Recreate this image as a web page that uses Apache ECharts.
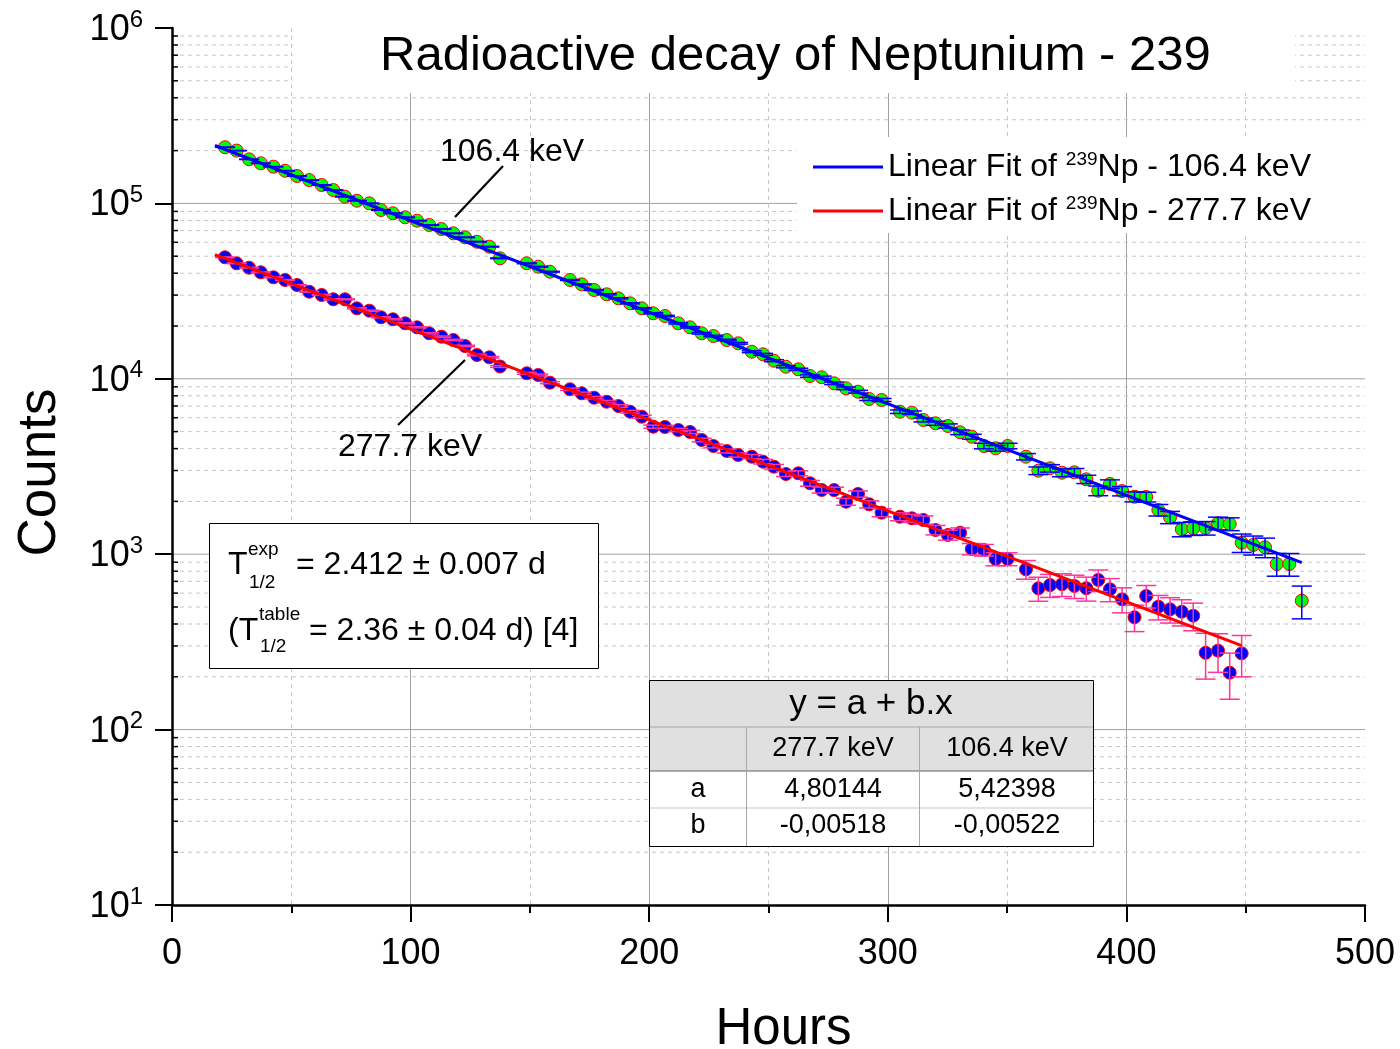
<!DOCTYPE html>
<html><head><meta charset="utf-8">
<script src="https://cdn.jsdelivr.net/npm/echarts@6/dist/echarts.min.js"></script>
<style>html,body{margin:0;padding:0;background:#fff}#c{width:1400px;height:1049px}</style>
</head><body><div id="c"></div>
<script>
// ---------------- data ----------------
const hours = [22.2,27.1,32.3,37.2,42.5,47.4,52.4,57.5,62.7,67.6,
72.5,77.5,82.7,87.6,92.6,97.7,102.7,107.8,112.9,117.9,
122.8,127.8,133.0,137.5,148.7,153.5,158.4,166.8,171.7,176.9,
182.2,187.1,192.0,196.9,201.7,206.6,212.2,217.1,222.0,226.9,
232.5,237.3,243.0,247.7,252.3,257.3,262.5,267.4,272.3,277.5,
282.5,287.5,292.2,297.4,305.1,310.1,314.9,320.0,325.2,330.3,
335.2,340.3,345.2,350.2,357.9,363.1,368.0,373.0,378.2,383.2,
388.2,393.1,398.2,403.4,408.3,413.4,418.3,423.2,428.0,433.2,
438.4,443.3,448.3,453.2,458.1,463.0,468.3,473.5];
const counts106 = [209000,200000,178300,169300,161900,153600,143300,135900,127300,119200,
109200,103600,100100,91700,87800,83300,79700,75300,71450,67520,
64070,60480,56640,48640,45540,43560,40790,36580,34570,32080,
30320,28770,26940,25230,23630,22800,20720,19660,18170,17540,
16640,15940,14270,13790,12680,11720,11330,10370,10200,9426,
8827,8442,7671,7571,6493,6408,5823,5576,5383,4955,
4677,4140,4017,4140,3596,2993,3088,2915,2930,2673,
2301,2513,2290,2127,2120,1786,1623,1387,1405,1410,
1501,1487,1163,1129,1095,879,879,543];
const err106 = [450,440,420,410,400,390,380,370,360,350,
340,330,320,310,300,295,290,285,280,275,
270,265,260,250,245,240,235,230,225,220,
215,210,205,200,200,195,190,185,180,180,
175,175,170,170,165,165,160,160,160,155,
155,155,150,150,150,150,150,150,150,150,
150,150,150,150,150,150,150,150,150,145,
145,140,140,140,135,135,130,130,125,125,
125,125,140,140,140,130,130,115];
const counts277 = [49280,45540,42990,40470,37900,36580,34250,31370,30050,28400,
28400,25230,24450,22420,21840,20720,19660,18170,17380,16640,
15380,13670,13260,11750,10750,10510,9502,8712,8267,7803,
7403,6997,6493,6079,5334,5313,5108,4975,4479,4140,
3876,3677,3596,3370,3154,2866,2893,2537,2323,2320,
1992,2204,1925,1725,1636,1602,1567,1374,1287,1326,
1071,1056,939,940,820,639,667,674,659,640,
713,631,553,437,578,502,485,470,446,274,
282,211,272];
const err277 = [230,225,220,215,210,205,200,195,190,185,
185,180,175,170,170,165,160,155,155,150,
150,145,140,140,135,135,130,130,125,125,
120,120,115,115,110,110,110,105,105,100,
100,100,100,100,95,95,95,95,90,90,
90,90,90,90,85,85,85,85,85,85,
80,80,80,80,100,100,100,100,100,100,
100,95,90,75,85,80,80,80,80,80,
70,62,72];
// linear fit of log10(counts) = a + b*hours  [106.4 keV, 277.7 keV]
const fitA = [5.42398, 4.80144];
const fitB = [-0.00522, -0.00518];
const fitRange106 = [18, 473.5];
const fitRange277 = [18, 448.3];
const fitNames = ['Linear Fit of 239Np - 106.4 keV', 'Linear Fit of 239Np - 277.7 keV'];
const tableHead = ['', '277.7 keV', '106.4 keV'];
const tableRowA = ['a', '4,80144', '5,42398'];
const tableRowB = ['b', '-0,00518', '-0,00522'];

// ---------------- helpers ----------------
const FF = "'Liberation Sans', Arial, Helvetica, sans-serif";
function fitLine(i, range) {
  return range.map(h => [h, Math.pow(10, fitA[i] + fitB[i] * h)]);
}
const yGridData = [];
for (let d = 1; d <= 5; d++) {
  for (let m = 1; m <= 9; m++) {
    if (d === 1 && m === 1) continue;
    yGridData.push([0, m * Math.pow(10, d), m === 1 ? 1 : 0]);
  }
}
function errRender(color) {
  return function (params, api) {
    const x = api.value(0), lo = api.value(1), hi = api.value(2);
    const p1 = api.coord([x, hi]), p2 = api.coord([x, lo]);
    const hw = 10;
    const st = { stroke: color, lineWidth: 1.5 };
    return { type: 'group', children: [
      { type: 'line', shape: { x1: p1[0], y1: p1[1], x2: p2[0], y2: p2[1] }, style: st },
      { type: 'line', shape: { x1: p1[0] - hw, y1: p1[1], x2: p1[0] + hw, y2: p1[1] }, style: st },
      { type: 'line', shape: { x1: p2[0] - hw, y1: p2[1], x2: p2[0] + hw, y2: p2[1] }, style: st }
    ]};
  };
}
function gridRender(params, api) {
  const v = api.value(1), major = api.value(2);
  const p1 = api.coord([0, v]), p2 = api.coord([500, v]);
  const children = [{
    type: 'line', shape: { x1: p1[0], y1: p1[1], x2: p2[0], y2: p2[1] },
    style: major ? { stroke: '#a0a0a0', lineWidth: 1 } : { stroke: '#c8c8c8', lineWidth: 1, lineDash: [4, 4] }
  }];
  if (!major) children.push({ type: 'line', shape: { x1: p1[0], y1: p1[1], x2: p1[0] + 6, y2: p1[1] }, style: { stroke: '#000', lineWidth: 1.5 } });
  return { type: 'group', children };
}
function txt(text, x, y, size, align) {
  return { type: 'text', z: 2, style: { text, x, y, fill: '#000', font: size + 'px ' + FF, align: align || 'left', verticalAlign: 'middle', textAlign: align || 'left', textVerticalAlign: 'middle' } };
}
function hline(x1, y1, x2, y2, color, w) {
  return { type: 'line', z: 2, shape: { x1, y1, x2, y2 }, style: { stroke: color, lineWidth: w } };
}

const graphics = [
  { type: 'rect', z: 1, shape: { x: 293, y: 20, width: 1002, height: 73 }, style: { fill: '#fff' } },
  { type: 'rect', z: 1, shape: { x: 797, y: 137, width: 568, height: 96 }, style: { fill: '#fff' } },
  { type: 'rect', z: 1, shape: { x: 209.5, y: 523.5, width: 389, height: 145 }, style: { fill: '#fff', stroke: '#000', lineWidth: 1 } },
  txt('T', 228, 565, 32), txt('exp', 248, 550, 19), txt('1/2', 249, 583, 19),
  txt('= 2.412 \u00b1 0.007 d', 296, 565, 32),
  txt('(T', 228, 631, 32), txt('table', 259, 615, 19), txt('1/2', 260, 647, 19),
  txt('= 2.36 \u00b1 0.04 d) [4]', 309, 631, 32),
  txt('106.4 keV', 440, 152, 32), hline(503, 166, 455, 217, '#000', 2.2),
  txt('277.7 keV', 338, 447, 32), hline(465, 360, 398, 425, '#000', 2.2),
  { type: 'rect', z: 1, shape: { x: 649.5, y: 680.5, width: 444, height: 166 }, style: { fill: '#fff' } },
  { type: 'rect', z: 1, shape: { x: 649.5, y: 680.5, width: 444, height: 90.5 }, style: { fill: '#e0e0e0' } },
  hline(649.5, 727, 1093.5, 727, '#a8a8a8', 1),
  hline(649.5, 771, 1093.5, 771, '#606060', 1),
  hline(649.5, 808, 1093.5, 808, '#c8c8c8', 1),
  hline(746.5, 727, 746.5, 846.5, '#a8a8a8', 1),
  hline(919.5, 727, 919.5, 846.5, '#a8a8a8', 1),
  { type: 'rect', z: 2, shape: { x: 649.5, y: 680.5, width: 444, height: 166 }, style: { fill: 'none', stroke: '#000', lineWidth: 1 } },
  txt('y = a + b.x', 871, 704.5, 35, 'center'),
  txt(tableHead[1], 833, 749, 27, 'center'), txt(tableHead[2], 1007, 749, 27, 'center'),
  txt(tableRowA[0], 698, 790, 27, 'center'), txt(tableRowA[1], 833, 790, 27, 'center'), txt(tableRowA[2], 1007, 790, 27, 'center'),
  txt(tableRowB[0], 698, 826, 27, 'center'), txt(tableRowB[1], 833, 826, 27, 'center'), txt(tableRowB[2], 1007, 826, 27, 'center')
];

const chart = echarts.init(document.getElementById('c'), null, { renderer: 'canvas' });
chart.setOption({
  animation: false,
  backgroundColor: '#fff',
  title: { text: 'Radioactive decay of Neptunium - 239', left: 380, top: 32, padding: 0, z: 6,
    textStyle: { fontSize: 49, fontWeight: 'normal', color: '#000', fontFamily: FF } },
  legend: {
    left: 808, top: 145, orient: 'vertical', itemWidth: 70, itemHeight: 3, itemGap: 10, icon: 'rect', z: 6,
    data: fitNames,
    formatter: n => n === fitNames[0] ? 'Linear Fit of {s|239}Np - 106.4 keV' : 'Linear Fit of {s|239}Np - 277.7 keV',
    textStyle: { fontSize: 32, fontFamily: FF, color: '#000', lineHeight: 34,
      rich: { s: { fontSize: 19, fontFamily: FF, color: '#000', verticalAlign: 'top', lineHeight: 19 } } }
  },
  grid: { left: 172, right: 35, top: 28, bottom: 144, containLabel: false, outerBoundsMode: 'none' },
  xAxis: {
    type: 'value', min: 0, max: 500, interval: 100,
    axisLine: { onZero: false, lineStyle: { color: '#000', width: 2.5 } },
    axisTick: { length: 17, lineStyle: { color: '#000', width: 2 } },
    minorTick: { show: true, splitNumber: 2, length: 8, lineStyle: { color: '#000', width: 2 } },
    splitLine: { show: true, showMinLine: false, showMaxLine: false, lineStyle: { color: '#a0a0a0', width: 1 } },
    minorSplitLine: { show: true, lineStyle: { color: '#c8c8c8', width: 1, type: [4, 4] } },
    axisLabel: { fontSize: 36, color: '#000', fontFamily: FF, margin: 31 },
    name: 'Hours', nameLocation: 'middle', nameGap: 99,
    nameTextStyle: { fontSize: 51, color: '#000', fontFamily: FF, padding: [0, 0, 0, 30] }
  },
  yAxis: {
    type: 'log', logBase: 10, min: 10, max: 1e6,
    axisLine: { show: true, lineStyle: { color: '#000', width: 2.5 } },
    axisTick: { show: true, length: 17, lineStyle: { color: '#000', width: 2 } },
    splitLine: { show: false },
    axisLabel: {
      margin: 29, color: '#000',
      formatter: v => '{b|10}{e|' + Math.round(Math.log10(v)) + '}',
      rich: {
        b: { fontSize: 36, fontFamily: FF, color: '#000', lineHeight: 40, verticalAlign: 'bottom' },
        e: { fontSize: 24, fontFamily: FF, color: '#000', lineHeight: 24, verticalAlign: 'top' }
      }
    },
    name: 'Counts', nameLocation: 'middle', nameGap: 105,
    nameTextStyle: { fontSize: 53, color: '#000', fontFamily: FF, padding: [0, 12, 0, 0] }
  },
  graphic: graphics,
  series: [
    { type: 'custom', name: 'ygrid', z: 0, silent: true, renderItem: gridRender, data: yGridData, encode: { x: 0, y: 1 } },
    { type: 'scatter', name: 'pts106', z: 2, symbol: 'circle', symbolSize: 13,
      itemStyle: { color: '#00ff00', borderColor: '#ff0000', borderWidth: 1, opacity: 1 },
      data: hours.map((h, i) => [h, counts106[i]]) },
    { type: 'scatter', name: 'pts277', z: 2, symbol: 'circle', symbolSize: 13,
      itemStyle: { color: '#0000ff', borderColor: '#ff0000', borderWidth: 1, opacity: 1 },
      data: counts277.map((c, i) => [hours[i], c]) },
    { type: 'custom', name: 'err106', z: 3, silent: true, renderItem: errRender('#0000ff'),
      encode: { x: 0, y: [1, 2] }, data: hours.map((h, i) => [h, counts106[i] - err106[i], counts106[i] + err106[i]]) },
    { type: 'custom', name: 'err277', z: 3, silent: true, renderItem: errRender('#ff3399'),
      encode: { x: 0, y: [1, 2] }, data: counts277.map((c, i) => [hours[i], c - err277[i], c + err277[i]]) },
    { type: 'line', name: fitNames[0], z: 4, symbol: 'none', color: '#0000ff',
      lineStyle: { color: '#0000ff', width: 3 }, itemStyle: { color: '#0000ff' }, data: fitLine(0, fitRange106) },
    { type: 'line', name: fitNames[1], z: 4, symbol: 'none', color: '#ff0000',
      lineStyle: { color: '#ff0000', width: 3 }, itemStyle: { color: '#ff0000' }, data: fitLine(1, fitRange277) }
  ]
});
</script>
</body></html>
